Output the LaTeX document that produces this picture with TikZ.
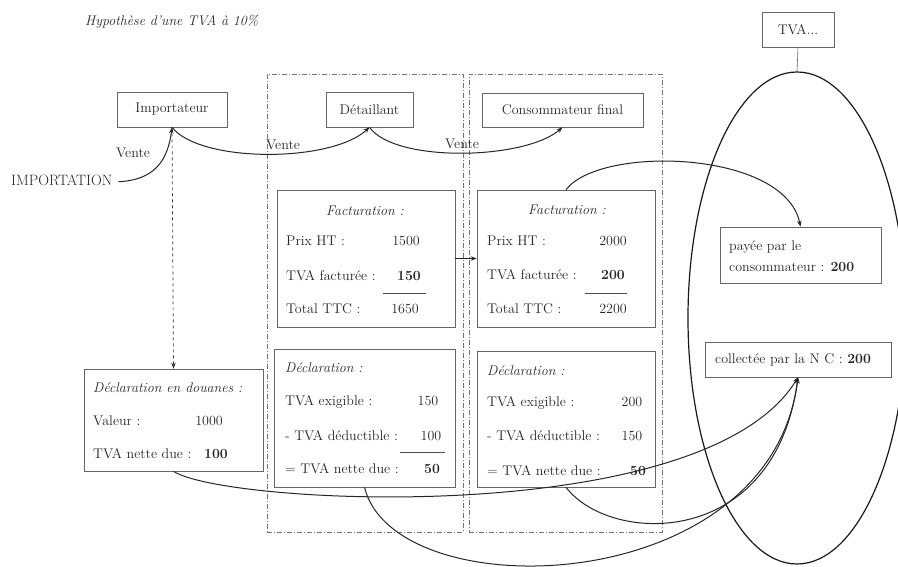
\documentclass[tikz,border=0pt]{standalone}
\usetikzlibrary{arrows.meta}
\begin{document}
\begin{tikzpicture}[x=1pt,y=-1pt,
  every node/.style={font=\fontsize{14}{16}\selectfont, text=black!85},
  box/.style={draw=black!60, line width=0.6pt, inner sep=0pt},
  framebox/.style={draw=black!55, line width=0.6pt, dash pattern=on 5pt off 2pt on 1pt off 2pt, inner sep=0pt},
  txt/.style={inner sep=0pt, anchor=west, text height=10pt, text depth=3pt},
  num/.style={inner sep=0pt, anchor=center, text height=10pt, text depth=3pt},
  ital/.style={font=\fontsize{14}{16}\selectfont\itshape},
  curve/.style={draw=black!85, line width=1pt},
  arr/.style={-{Stealth[length=6pt,width=4.5pt]}},
  rule/.style={draw=black!70, line width=0.6pt}
]
\useasboundingbox (0,0) rectangle (898,567);

% frames
\node[framebox, minimum width=196pt, minimum height=458pt] (fdet) at (365,303) {};
\node[framebox, minimum width=193pt, minimum height=458pt] (fcon) at (565.5,303) {};

% title
\node[txt, font=\fontsize{14}{16}\selectfont\itshape] (title) at (85,22) {Hypothèse d'une TVA à 10\%};

% top boxes
\node[box, minimum width=110pt, minimum height=35pt] (imp) at (172,109.5) {Importateur};
\node[box, minimum width=87pt, minimum height=35pt] (det) at (369.5,109.5) {Détaillant};
\node[box, minimum width=161pt, minimum height=34pt] (con) at (562.5,110) {Consommateur final};
\node[box, minimum width=72pt, minimum height=35pt] (tva) at (798,29.5) {TVA...};

% labels
\node[txt, font=\fontsize{15}{17}\selectfont] (importation) at (11,182) {IMPORTATION};
\node[num] (v1) at (133,154) {Vente};
\node[num] (v2) at (283,146) {Vente};
\node[num] (v3) at (462,145) {Vente};

% content boxes
\node[box, minimum width=179pt, minimum height=102pt] (dou) at (173.5,420) {};
\node[box, minimum width=178pt, minimum height=137pt] (fd) at (366,258.5) {};
\node[box, minimum width=181pt, minimum height=138pt] (ddet) at (364.5,418) {};
\node[box, minimum width=178pt, minimum height=137pt] (fc) at (566,258.5) {};
\node[box, minimum width=178pt, minimum height=136pt] (dcon) at (566,419) {};
\node[box, minimum width=161pt, minimum height=56pt] (pay) at (800.5,255) {};
\node[box, minimum width=186pt, minimum height=35pt] (col) at (798,359.5) {};

% douane texts
\node[txt, ital] (dou1) at (93,389) {Déclaration en douanes :};
\node[txt] (dou2) at (93,422) {Valeur :};
\node[num] (dou2n) at (209,422) {1000};
\node[txt] (dou3) at (93,455) {TVA nette due :};
\node[num] (dou3n) at (216,455) {\textbf{100}};

% facturation detaillant
\node[num, ital] (fd1) at (365,212) {Facturation :};
\node[txt] (fd2) at (286,242) {Prix HT :};
\node[num] (fd2n) at (406,242) {1500};
\node[txt] (fd3) at (286,277) {TVA facturée :};
\node[num] (fd3n) at (409,277) {\textbf{150}};
\node[txt] (fd4) at (286,310) {Total TTC :};
\node[num] (fd4n) at (405,310) {1650};
\coordinate (fdl1) at (383,293);
\coordinate (fdl2) at (426,293);
\draw[rule] (fdl1) -- (fdl2);

% declaration detaillant
\node[txt, ital] (dd1) at (285,369) {Déclaration :};
\node[txt] (dd2) at (285,402) {TVA exigible :};
\node[num] (dd2n) at (428,402) {150};
\node[txt] (dd3) at (285,437) {- TVA déductible :};
\node[num] (dd3n) at (431,437) {100};
\node[txt] (dd4) at (285,470) {= TVA nette due :};
\node[num] (dd4n) at (432,470) {\textbf{50}};
\coordinate (ddl1) at (400,452);
\coordinate (ddl2) at (445,452);
\draw[rule] (ddl1) -- (ddl2);

% facturation consommateur
\node[num, ital] (fc1) at (567,211) {Facturation :};
\node[txt] (fc2) at (487,242) {Prix HT :};
\node[num] (fc2n) at (613,242) {2000};
\node[txt] (fc3) at (487,276) {TVA facturée :};
\node[num] (fc3n) at (613,276) {\textbf{200}};
\node[txt] (fc4) at (487,310) {Total TTC :};
\node[num] (fc4n) at (613,310) {2200};
\coordinate (fcl1) at (585,293);
\coordinate (fcl2) at (627,293);
\draw[rule] (fcl1) -- (fcl2);

% declaration consommateur
\node[txt, ital] (dc1) at (487,372) {Déclaration :};
\node[txt] (dc2) at (487,403) {TVA exigible :};
\node[num] (dc2n) at (632,403) {200};
\node[txt] (dc3) at (487,437) {- TVA déductible :};
\node[num] (dc3n) at (632,437) {150};
\node[txt] (dc4) at (487,472) {= TVA nette due :};
\node[num] (dc4n) at (638,472) {\textbf{50}};

% right boxes texts
\node[txt] (pay1) at (729,247) {payée par le};
\node[txt] (pay2) at (729,268) {consommateur : \textbf{200}};
\node[txt] (col1) at (715,360) {collectée par la N C : \textbf{200}};

% ellipse
\coordinate (ectr) at (797,318);
\coordinate (etop) at (797,72);
\draw[draw=black!90, line width=1.2pt] (ectr) ellipse [x radius=109, y radius=246];
\draw[draw=black!60, line width=0.6pt] (tva.south) -- (etop);

% connectors
\draw[curve, arr, shorten <=6pt] (importation.east) .. controls (155,180) and (168,160) .. (imp.south);
\draw[curve, arr] (imp.south) .. controls (200,163) and (331,163) .. (det.south);
\draw[curve, arr] (det.south) .. controls (395,163) and (525,160) .. (con.south);
\draw[draw=black!80, line width=0.7pt, dashed, arr] (imp.south) -- (dou.north);
\draw[curve, arr] (fd.east) -- (fc.west);
\draw[curve, arr] (fc.north) .. controls (600,145) and (785,150) .. (pay.north);
\draw[curve, arr] (dou.south) .. controls (225,505) and (705,530) .. (col.south);
\draw[curve, arr] (ddet.south) .. controls (395,610) and (770,600) .. (col.south);
\draw[curve, arr] (dcon.south) .. controls (610,545) and (775,550) .. (col.south);
\end{tikzpicture}
\end{document}
